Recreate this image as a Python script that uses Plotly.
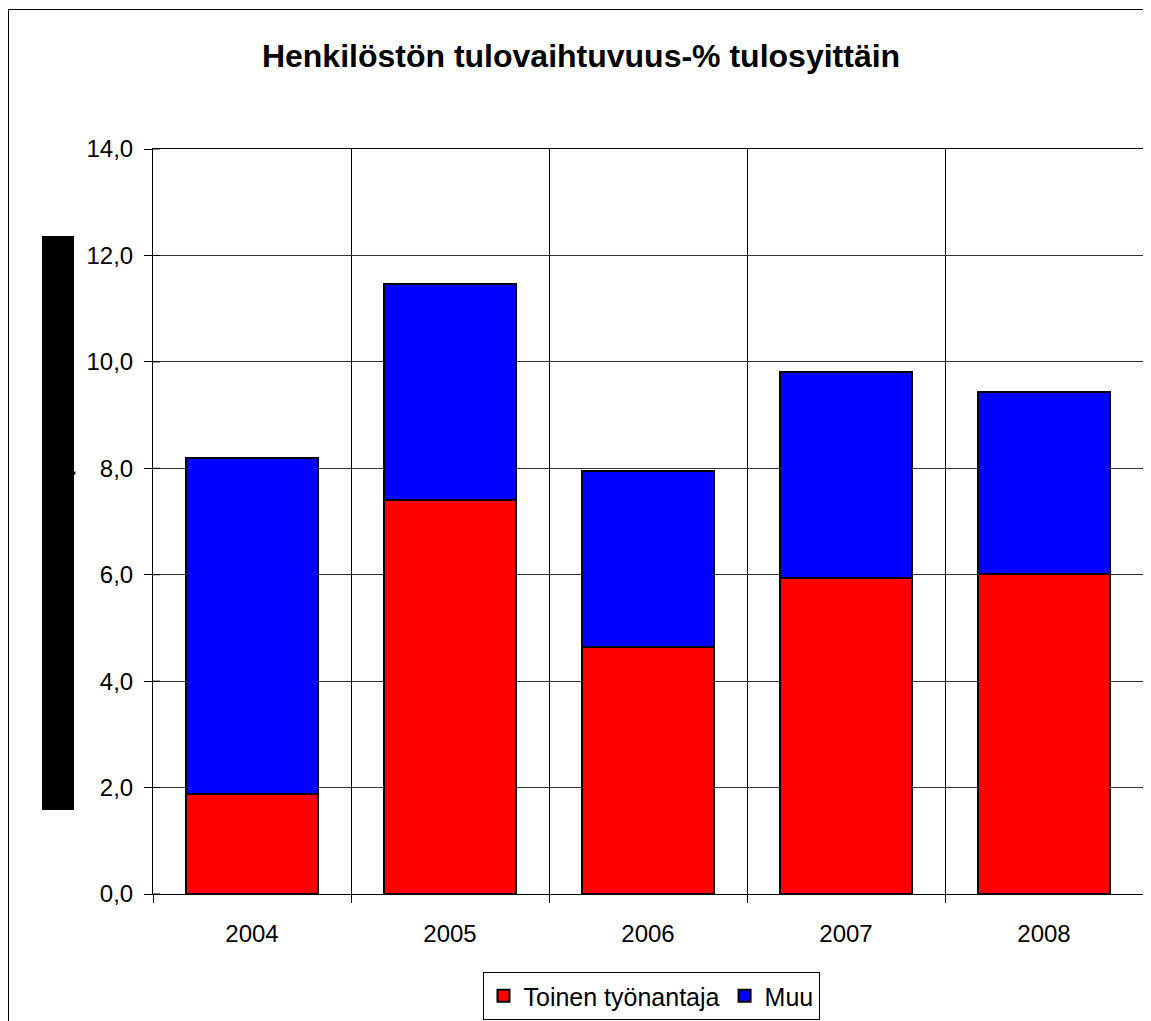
import plotly.graph_objects as go

years = ["2004", "2005", "2006", "2007", "2008"]
toinen = [1.87, 7.41, 4.64, 5.94, 6.01]
muu = [6.32, 4.06, 3.31, 3.87, 3.43]
y_ticks = [0, 2, 4, 6, 8, 10, 12, 14]

W, H = 1143, 1013
L, R, T, B = 145, 8, 141, 127
pw, ph = W - L - R, H - T - B

def px(x):
    return (x - L) / pw

def py(y):
    return (H - B - y) / ph

fig = go.Figure()
fig.add_trace(go.Bar(x=years, y=toinen, name="Toinen työnantaja",
                     marker=dict(color="#FF0000", line=dict(color="black", width=2))))
fig.add_trace(go.Bar(x=years, y=muu, name="Muu",
                     marker=dict(color="#0000FF", line=dict(color="black", width=2))))

font = "Liberation Sans, Arial, sans-serif"

shapes = [
    dict(type="rect", xref="paper", yref="paper", x0=px(34), x1=px(66),
         y0=py(802), y1=py(228), fillcolor="black", line=dict(width=0)),
    dict(type="rect", xref="paper", yref="paper", x0=px(65), x1=px(67.5),
         y0=py(466.5), y1=py(463.5), fillcolor="black", line=dict(width=0)),
    dict(type="line", xref="paper", yref="paper", x0=px(0.5), x1=px(0.5),
         y0=py(1), y1=py(H + 5), line=dict(color="black", width=1)),
    dict(type="line", xref="paper", yref="paper", x0=px(0), x1=px(W + 5),
         y0=py(1.5), y1=py(1.5), line=dict(color="black", width=1)),
]
# inner half of the crossing y ticks
for v in y_ticks:
    shapes.append(dict(type="line", xref="paper", yref="y", x0=0, x1=7 / pw,
                       y0=v, y1=v, line=dict(color="black", width=1)))

fig.update_layout(
    width=W, height=H,
    barmode="stack", bargap=0.333,
    margin=dict(l=L, r=R, t=T, b=B, autoexpand=False),
    paper_bgcolor="white", plot_bgcolor="white",
    separators=", ",
    font=dict(family=font, size=24, color="black"),
    title=dict(text="<b>Henkilöstön tulovaihtuvuus-% tulosyittäin</b>",
               xref="container", x=573 / W, xanchor="center",
               yref="container", y=1 - 48 / H, yanchor="middle",
               font=dict(family=font, size=32, color="black")),
    showlegend=True,
    legend=dict(orientation="h", x=px(643), xanchor="center", y=py(964), yanchor="top",
                bordercolor="black", borderwidth=1, bgcolor="white",
                font=dict(family=font, size=25, color="black"),
                traceorder="normal", itemwidth=30, tracegroupgap=0),
    xaxis=dict(type="category", tickson="boundaries", showgrid=True, gridcolor="black",
               gridwidth=1, ticks="outside", ticklen=8, tickcolor="black",
               showline=True, linecolor="black", linewidth=1, mirror=True,
               ticklabelstandoff=18, tickfont=dict(size=24)),
    yaxis=dict(range=[0, 14], tickvals=y_ticks, tickformat=".1f", showgrid=True,
               gridcolor="#333333", gridwidth=1, ticks="outside", ticklen=8,
               tickcolor="black", showline=True, linecolor="black", linewidth=1,
               mirror=True, zeroline=False, ticklabelstandoff=6, tickfont=dict(size=24)),
    shapes=shapes,
)

fig.write_html("out.html")
